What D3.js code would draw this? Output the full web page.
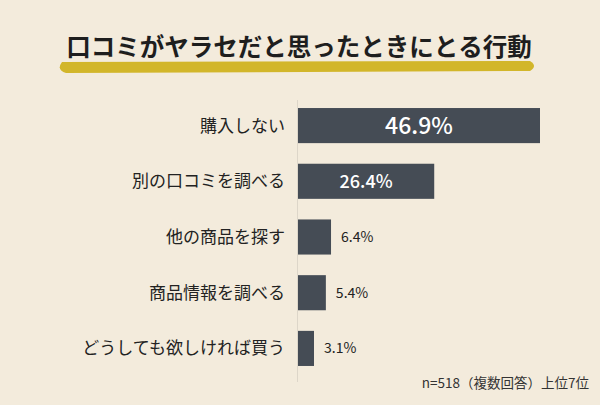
<!DOCTYPE html><html><head><meta charset="utf-8"><script src="https://cdn.jsdelivr.net/npm/d3@7"></script>
<style>body{margin:0;background:#f3ebdc}</style></head><body><script>
const categories=["購入しない","別の口コミを調べる","他の商品を探す","商品情報を調べる","どうしても欲しければ買う"];
const values=[46.9,26.4,6.4,5.4,3.1];
const W=600,H=405,F="'Noto Sans CJK JP',sans-serif";
const svg=d3.select("body").append("svg").attr("width",W).attr("height",H);
svg.append("rect").attr("width",W).attr("height",H).attr("fill","#f3ebdc");
svg.append("path").attr("d","M62,62 Q56,70 66,73 L530,71 Q538,66 530,61 Z").attr("fill","#d2b62a");
svg.append("text").attr("x",299).attr("y",56).attr("text-anchor","middle").attr("font-family",F).attr("font-weight",700).attr("font-size",24.5).attr("fill","#1e1e1e").text("口コミがヤラセだと思ったときにとる行動");
const x=d3.scaleLinear().domain([0,46.9]).range([298,540]);
const y=d3.scaleBand().domain(categories).range([98,376]).paddingInner(0.37).paddingOuter(0.18);
svg.append("line").attr("x1",297.5).attr("x2",297.5).attr("y1",100).attr("y2",382).attr("stroke","#ddd6c9");
const g=svg.selectAll("g.b").data(categories).join("g");
g.append("rect").attr("x",x(0)).attr("y",d=>y(d)).attr("height",y.bandwidth()).attr("width",(d,i)=>x(values[i])-x(0)).attr("fill","#454c55");
g.append("text").attr("x",285).attr("y",d=>y(d)+y.bandwidth()/2).attr("dy","0.35em").attr("text-anchor","end").attr("font-family",F).attr("font-size",17).attr("fill","#222").text(d=>d);
g.append("text").attr("x",(d,i)=>values[i]>20?(x(0)+x(values[i]))/2:x(values[i])+10).attr("y",d=>y(d)+y.bandwidth()/2).attr("dy","0.35em").attr("text-anchor",(d,i)=>values[i]>20?"middle":"start").attr("font-family",F).attr("font-weight",(d,i)=>values[i]>20?500:400).attr("font-size",(d,i)=>values[i]>40?23:values[i]>20?18:14).attr("fill",(d,i)=>values[i]>20?"#fff":"#222").text((d,i)=>values[i].toFixed(1)+"%");
svg.append("text").attr("x",589).attr("y",388).attr("text-anchor","end").attr("font-family",F).attr("font-size",13.5).attr("fill","#333").text("n=518（複数回答）上位7位");
</script></body></html>
